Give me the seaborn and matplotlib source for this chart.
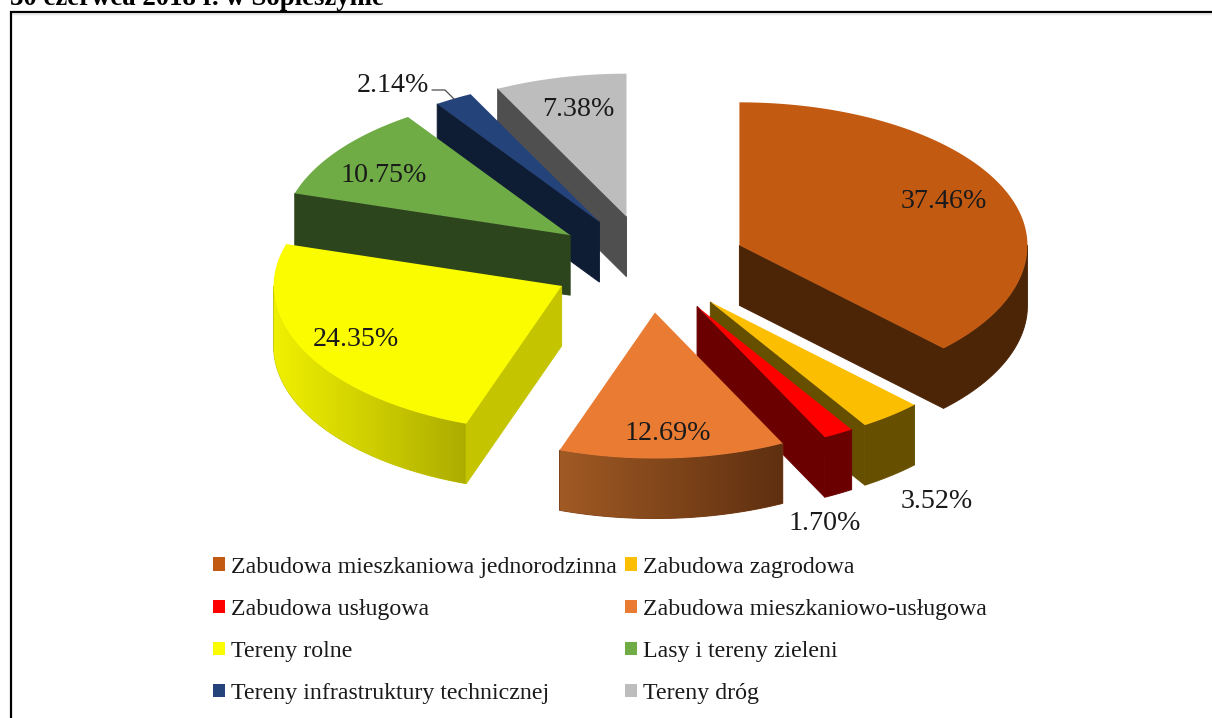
import numpy as np
import matplotlib
matplotlib.use("Agg")
import matplotlib.pyplot as plt
import matplotlib.colors as mcolors
from matplotlib.patches import Patch, Polygon
import seaborn as sns

categories = ["Zabudowa mieszkaniowa jednorodzinna", "Zabudowa zagrodowa",
              "Zabudowa usługowa", "Zabudowa mieszkaniowo-usługowa",
              "Tereny rolne", "Lasy i tereny zieleni",
              "Tereny infrastruktury technicznej", "Tereny dróg"]
shares = [37.46, 3.52, 1.70, 12.69, 24.35, 10.75, 2.14, 7.38]
share_labels = ["37.46%", "3.52%", "1.70%", "12.69%", "24.35%", "10.75%", "2.14%", "7.38%"]
title_text = "30 czerwca 2018 r. w Sopieszynie"

top_colors = ["#C35A11", "#FCBE00", "#FF0000", "#E97B33", "#FCFC00", "#6FAC46", "#24437A", "#BDBDBD"]
side_colors = ["#4C2406", "#665000", "#6B0000", "#7C411B", "#C4C400", "#2D451C", "#0E1C34", "#4F4F4F"]
wall_left = ["#4C2406", "#665000", "#6B0000", "#A05A24", "#F0F000", "#2D451C", "#0E1C34", "#4F4F4F"]
wall_right = ["#4C2406", "#665000", "#6B0000", "#5E2F10", "#ACAC00", "#2D451C", "#0E1C34", "#4F4F4F"]
label_xy = [(944, 199), (937, 500), (825, 521), (668, 431), (356, 338), (384, 173), (393, 83), (578, 107)]

sns.set_theme(style="white")
plt.rcParams["font.family"] = ["Liberation Serif", "DejaVu Serif"]
palette = sns.color_palette(top_colors)

fig = plt.figure(figsize=(12.12, 7.18), dpi=100)
ax = fig.add_axes([0, 0, 1, 1])
ax.set_xlim(0, 1212)
ax.set_ylim(718, 0)
ax.axis("off")

CX, CY, RX, RY_BACK, RY_FRONT, EXPLODE, DEPTH = 649, 264, 288, 143, 146, 0.34, 60

total = sum(shares)
edges = np.concatenate([[0], np.cumsum(shares)]) / total * 2 * np.pi


def rim(t, x0, y0, drop=0):
    c = np.cos(t)
    return x0 + RX * np.sin(t), y0 - np.where(c > 0, RY_BACK, RY_FRONT) * c + drop


def draw_slice(i):
    a, b = edges[i], edges[i + 1]
    mid = (a + b) / 2
    x0 = CX + EXPLODE * RX * np.sin(mid)
    y0 = CY - EXPLODE * RY_BACK * np.cos(mid)
    z = i_order[i]
    # outer wall: front half of the ellipse only
    lo, hi = max(a, np.pi / 2), min(b, 3 * np.pi / 2)
    if hi > lo:
        ts = np.linspace(lo, hi, 160)
        xs, ys = rim(ts, x0, y0)
        px = np.r_[xs, xs[::-1]]
        py = np.r_[ys, ys[::-1] + DEPTH]
        ax.fill(px, py, color=side_colors[i], lw=0.7, zorder=z)
        if wall_left[i] != wall_right[i]:
            cmap = mcolors.LinearSegmentedColormap.from_list("w", [wall_left[i], wall_right[i]])
            poly = Polygon(np.c_[px, py], closed=True, transform=ax.transData, fc="none", ec="none")
            ax.add_patch(poly)
            im = ax.imshow(np.linspace(0, 1, 256)[None, :], cmap=cmap, aspect="auto",
                           extent=(px.min(), px.max(), py.max(), py.min()), zorder=z + 0.2)
            im.set_clip_path(poly)
    # radial faces
    for t, visible in ((a, np.sin(a) < 0), (b, np.sin(b) > 0)):
        if visible:
            xe, ye = rim(t, x0, y0)
            ax.fill([x0, xe, xe, x0], [y0, ye, ye + DEPTH, y0 + DEPTH],
                    color=side_colors[i], lw=0.7, zorder=z + 0.3)
    # top face
    ts = np.linspace(a, b, 200)
    xs, ys = rim(ts, x0, y0)
    ax.fill(np.r_[x0, xs], np.r_[y0, ys], color=palette[i], lw=0, zorder=z + 0.5)


# painter's order: back slices first
order = [7, 6, 5, 0, 4, 1, 2, 3]
i_order = {s: k + 1 for k, s in enumerate(order)}
for s in order:
    draw_slice(s)
ax.set_xlim(0, 1212)
ax.set_ylim(718, 0)

for lab, (x, y) in zip(share_labels, label_xy):
    ax.text(x, y + 2, lab, ha="center", va="center", fontsize=20.2, color="#1a1a1a", zorder=20)
ax.plot([432, 445, 454], [90, 90, 99], color="#4d4d4d", lw=0.9, zorder=20)

# frame and clipped heading
ax.plot([1212, 11, 11], [12.3, 12.3, 718], color="black", lw=1.6, zorder=30, solid_joinstyle="miter")
ax.plot([12, 1212], [14.2, 14.2], color="#E6E6E6", lw=1, zorder=29)
ax.text(10, 5, title_text, fontsize=19.3, fontweight="bold", color="black", va="baseline", ha="left", zorder=30)

handles = [Patch(facecolor=c, edgecolor="none") for c in palette]
idx = [0, 2, 4, 6, 1, 3, 5, 7]
ax.legend([handles[k] for k in idx], [categories[k] for k in idx], ncol=2,
          loc="upper left", bbox_to_anchor=(208 / 1212, 1 - 552 / 718), frameon=False,
          fontsize=17.2, labelcolor="#1a1a1a", handlelength=0.5, handleheight=0.5,
          handletextpad=0.25, columnspacing=0.36, labelspacing=0.88, borderpad=0.2, borderaxespad=0)
fig.savefig("out.png", dpi=100)
